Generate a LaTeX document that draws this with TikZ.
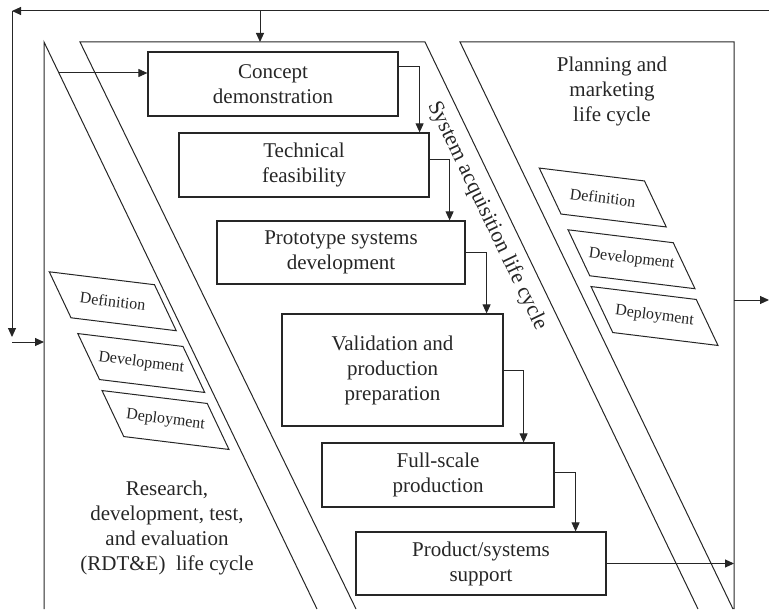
\documentclass[tikz,border=0pt]{standalone}
\usepackage{fontspec}
\setmainfont{Liberation Serif}
\usetikzlibrary{arrows.meta,calc}

% slanted frame round a phase node
\newcommand{\slantbox}[1]{%
  \draw ($(#1.north west)!-6.8pt!(#1.north east)$) -- ($(#1.north east)!6.8pt!(#1.north west)$)
     -- ($(#1.south east)!-6.8pt!(#1.south west)$) -- ($(#1.south west)!6.8pt!(#1.south east)$) -- cycle;}

\begin{document}
\begin{tikzpicture}[x=0.5pt, y=-0.5pt, line width=0.5pt, color=black!85,
  stage/.style={draw, line width=0.6pt, align=center, inner sep=0pt, font=\fontsize{10.5}{12.5}\selectfont},
  phase/.style={rotate=-7, minimum width=52.5pt, minimum height=21pt, inner sep=0pt, font=\fontsize{8}{9.6}\selectfont},
  cyclename/.style={align=center, font=\fontsize{10.5}{12.5}\selectfont},
  arr/.style={-{Triangle[length=4.5pt,width=4pt]}}
]
\useasboundingbox (0,0) rectangle (769,609);

% the three life cycle bands
\coordinate (lbtop) at (44,42);
\coordinate (mbL) at (80,42);
\coordinate (mbR) at (425,42);
\coordinate (rbL) at (460,42);
\coordinate (rbR) at (734,42);
\draw (44,609) -- (lbtop) -- (317,609);
\draw (356,609) -- (mbL) -- (mbR) -- (698,609);
\draw (733,609) -- (rbL) -- (rbR) -- (734,609);

% acquisition stages
\node[stage, minimum width=125pt, minimum height=32pt] (concept) at (273,84) {Concept\\demonstration};
\node[stage, minimum width=125pt, minimum height=32pt] (feasib) at (304,165) {Technical\\feasibility};
\node[stage, minimum width=124pt, minimum height=31.5pt] (proto) at (341,252.5) {Prototype systems\\development};
\node[stage, minimum width=110.5pt, minimum height=56pt] (valid) at (392.5,370) {Validation and\\production\\preparation};
\node[stage, minimum width=116pt, minimum height=32pt] (fullscale) at (438,475) {Full-scale\\production};
\node[stage, minimum width=125pt, minimum height=31.5pt] (support) at (481,563.5) {Product/systems\\support};

\draw[arr] ([yshift=8.5pt]concept.east) -| ([xshift=-5pt]feasib.north east);
\draw[arr] ([yshift=2.5pt]feasib.east) -| ([xshift=-8pt]proto.north east);
\draw[arr] (proto.east) -| ([xshift=-8.5pt]valid.north east);
\draw[arr] (valid.east) -| ([xshift=-15.5pt]fullscale.north east);
\draw[arr] ([yshift=1.5pt]fullscale.east) -| ([xshift=-15.5pt]support.north east);

% phases inside the outer bands
\node[phase] (rdef) at (112.75,301.25) {Definition};
\node[phase] (rdev) at (141.25,363) {Development};
\node[phase] (rdep) at (165.5,420) {Deployment};
\node[phase] (pdef) at (602.75,197.5) {Definition};
\node[phase] (pdev) at (631.5,259.25) {Development};
\node[phase] (pdep) at (654.5,316) {Deployment};
\slantbox{rdef} \slantbox{rdev} \slantbox{rdep}
\slantbox{pdef} \slantbox{pdev} \slantbox{pdep}

\node[cyclename] (planning) at (612,91) {Planning and\\marketing\\life cycle};
\node[cyclename] (rdte) at (167,528) {Research,\\development, test,\\and evaluation\\(RDT\&E)\ \ life cycle};
\node[cyclename, font=\fontsize{10.9}{13}\selectfont, rotate=-64.4] (acq) at (487,216) {System acquisition life cycle};

% feedback and hand-over arrows
\coordinate (entry) at (59,73);
\coordinate (exit) at (769,300);
\coordinate (fbR) at (769,11);
\coordinate (fbL) at (12,11);
\coordinate (fbB) at (12,342);
\coordinate (mbin) at (260,42);
\draw[arr] (entry) -- (entry -| concept.west);
\draw[arr] (support.east) -- (support.east -| rbR);
\draw[arr] (exit -| rbR) -- (exit);
\draw[arr] (fbR) -- (fbL);
\draw[arr] (fbL) -- ([yshift=2.5pt]fbB);
\draw[arr] (fbB) -- (fbB -| lbtop);
\draw[arr] (mbin |- fbL) -- (mbin);
\end{tikzpicture}
\end{document}
